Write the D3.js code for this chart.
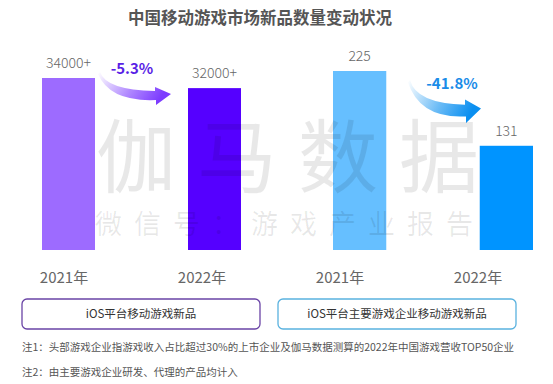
<!DOCTYPE html>
<html><head><meta charset="utf-8">
<script src="https://cdn.jsdelivr.net/npm/d3@7/dist/d3.min.js"></script>
<style>
html,body{margin:0;padding:0;background:#fff;}
svg{display:block;font-family:"Noto Sans CJK SC","Noto Sans",sans-serif;}
</style></head>
<body><svg id="c" width="553" height="384"></svg>
<script>
const title = "中国移动游戏市场新品数量变动状况";
const years = ["2021年", "2022年"];
const leftValues = [34000, 32000];
const leftLabels = ["34000+", "32000+"];
const leftChange = "-5.3%";
const leftLegend = "iOS平台移动游戏新品";
const rightValues = [225, 131];
const rightLabels = ["225", "131"];
const rightChange = "-41.8%";
const rightLegend = "iOS平台主要游戏企业移动游戏新品";
const leftColors = ["#9d6bff", "#5500ff"];
const rightColors = ["#66bfff", "#0094ff"];
const watermark1 = ["伽", "马", "数", "据"];
const watermark2 = ["微", "信", "号", "：", "游", "戏", "产", "业", "报", "告"];
const notes = [
  "注1：头部游戏企业指游戏收入占比超过30%的上市企业及伽马数据测算的2022年中国游戏营收TOP50企业",
  "注2：由主要游戏企业研发、代理的产品均计入"
];

const svg = d3.select("#c");
const defs = svg.append("defs");

svg.append("text").attr("x", 260).attr("y", 24).attr("text-anchor", "middle")
  .attr("font-size", 16.5).attr("font-weight", "bold").attr("fill", "#555").text(title);

const base = 250;
const panels = [
  {values: leftValues, labels: leftLabels, colors: leftColors, range: [42, 241], top: 78,
   change: leftChange, changeColor: "#5a1fe6", changeX: 132, changeY: 69,
   arrow: {x: 100, y: 72, sx: 1, sy: 1}, grad: "#7d3cff", id: "gl",
   legend: leftLegend, box: [22, 260], stroke: "#6a44a6"},
  {values: rightValues, labels: rightLabels, colors: rightColors, range: [333, 533], top: 71,
   change: rightChange, changeColor: "#1a8ce8", changeX: 452, changeY: 84,
   arrow: {x: 410, y: 80, sx: 1.0, sy: 1.3}, grad: "#0a8ff0", id: "gr",
   legend: rightLegend, box: [278, 516], stroke: "#5ab2df"}
];

const labelX = d3.scalePoint().domain([0,1,2,3]).range([64, 478]);

// watermark (drawn under the bars' labels but semi-transparent over bars)
const wmLayer = svg.append("g");

panels.forEach((p, pi) => {
  const x = d3.scaleBand().domain(years).range(p.range).paddingInner(0.637).paddingOuter(0);
  const y = d3.scaleLinear().domain([0, d3.max(p.values)]).range([base, p.top]);
  const g = svg.append("g");
  g.selectAll("rect").data(p.values).join("rect")
    .attr("x", (d, i) => x(years[i])).attr("width", x.bandwidth())
    .attr("y", d => y(d)).attr("height", d => base - y(d))
    .attr("fill", (d, i) => p.colors[i]);
  g.selectAll("text.v").data(p.values).join("text").attr("class", "v")
    .attr("x", (d, i) => x(years[i]) + x.bandwidth() / 2)
    .attr("y", d => y(d) - 10)
    .attr("text-anchor", "middle").attr("font-size", 14).attr("font-weight", 300).attr("fill", "#666")
    .text((d, i) => p.labels[i]);
  g.selectAll("text.yr").data(years).join("text").attr("class", "yr")
    .attr("x", (d, i) => labelX(pi * 2 + i)).attr("y", 283)
    .attr("text-anchor", "middle").attr("font-size", 15).attr("fill", "#666")
    .text(d => d);

  const gr = defs.append("linearGradient").attr("id", p.id)
    .attr("x1", "0%").attr("y1", "0%").attr("x2", "100%").attr("y2", "30%");
  gr.append("stop").attr("offset", "0%").attr("stop-color", p.grad).attr("stop-opacity", 0);
  gr.append("stop").attr("offset", "55%").attr("stop-color", p.grad).attr("stop-opacity", 0.6);
  gr.append("stop").attr("offset", "100%").attr("stop-color", p.grad).attr("stop-opacity", 1);
  const a = p.arrow;
  const path = "M0,0 Q6,18 55,19 L55,15 L71,22 L56,33 L56,28 Q10,30 -2,2 Z";
  g.append("path").attr("d", path)
    .attr("transform", `translate(${a.x},${a.y}) scale(${a.sx},${a.sy})`)
    .attr("fill", `url(#${p.id})`);
  g.append("text").attr("x", p.changeX).attr("y", p.changeY + 5).attr("text-anchor", "middle")
    .attr("font-size", 15).attr("font-weight", "bold").attr("fill", p.changeColor).text(p.change);

  g.append("rect").attr("x", p.box[0]).attr("y", 299).attr("width", p.box[1] - p.box[0]).attr("height", 30)
    .attr("rx", 5).attr("fill", "#fff").attr("stroke", p.stroke).attr("stroke-width", 1.3);
  g.append("text").attr("x", (p.box[0] + p.box[1]) / 2).attr("y", 318).attr("text-anchor", "middle")
    .attr("font-size", 11.5).attr("fill", "#333").text(p.legend);
});

const wm = svg.append("g").attr("fill", "#000").attr("fill-opacity", 0.09);
wm.selectAll("text.w1").data(watermark1).join("text").attr("class", "w1")
  .attr("x", (d, i) => 96 + i * 101).attr("y", 186).attr("font-size", 80).text(d => d);
wm.selectAll("text.w2").data(watermark2).join("text").attr("class", "w2")
  .attr("x", (d, i) => 95 + i * 39).attr("y", 234).attr("font-size", 27).text(d => d);

svg.selectAll("text.note").data(notes).join("text").attr("class", "note")
  .attr("x", 22).attr("y", (d, i) => 351 + i * 25)
  .attr("font-size", 10.5).attr("fill", "#555").text(d => d);
</script></body></html>
